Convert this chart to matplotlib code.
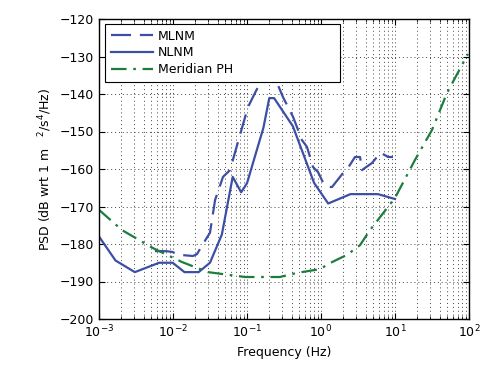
import numpy as np
import matplotlib
matplotlib.use("Agg")
import matplotlib.pyplot as plt
from matplotlib.ticker import LogLocator, NullFormatter, MultipleLocator

# NLNM (solid)
nlnm_f = [0.001, 0.00167, 0.00305, 0.0065, 0.0099, 0.01429, 0.0222, 0.0316, 0.0457,
          0.0641, 0.0833, 0.1, 0.1667, 0.2, 0.2326, 0.417, 0.806, 1.25, 2.5, 5.88, 10.0]
nlnm_db = [-178.0, -184.4, -187.5, -185.0, -185.0, -187.5, -187.5, -185.0, -177.5,
           -162.1, -166.2, -163.8, -149.0, -141.1, -141.1, -148.6, -163.7, -169.2,
           -166.7, -166.7, -168.0]

# MLNM (dashed)
mlnm_f = [0.0057, 0.0080, 0.0097, 0.0124, 0.0186, 0.0211, 0.0254, 0.0316, 0.0370,
          0.0474, 0.0589, 0.0627, 0.103, 0.141, 0.19, 0.254, 0.306, 0.419, 0.553,
          0.646, 0.781, 0.910, 1.06, 1.24, 1.41, 1.98, 2.32, 2.88, 3.37, 3.58, 3.94,
          4.89, 5.71, 6.27, 7.33, 8.04, 9.40]
mlnm_db = [-181.9, -181.9, -182.1, -182.9, -183.2, -182.7, -180.0, -177.0, -168.3,
           -162.1, -160.3, -158.4, -143.5, -138.1, -134.0, -137.0, -140.8, -146.1,
           -152.3, -154.1, -159.5, -160.8, -163.5, -164.8, -164.8, -161.1, -159.7,
           -156.8, -156.8, -160.3, -159.7, -158.4, -156.8, -155.7, -156.3, -156.8,
           -156.8]

# Meridian PH (dash-dot)
ph_f = [0.001, 0.00205, 0.00537, 0.0132, 0.0297, 0.094, 0.279, 0.474, 0.968, 1.32,
        2.24, 3.37, 4.59, 10.0, 18.6, 31.6, 50.5, 96.8]
ph_db = [-170.9, -176.3, -181.1, -184.8, -187.5, -188.8, -188.8, -187.7, -186.7,
         -185.1, -182.9, -180.3, -176.3, -167.7, -157.6, -149.6, -139.7, -129.3]

xlim = (1e-3, 1e2)
ylim = (-200, -120)

blue = '#3d4fa5'
green = '#1c7d3c'

plt.rcParams['font.family'] = ['DejaVu Sans']
fig = plt.figure(figsize=(4.94, 3.75), dpi=100)
ax = fig.add_axes([99/494, 1-319/375, 370/494, 300/375])

ax.semilogx(mlnm_f, mlnm_db, color=blue, lw=1.6, dashes=(9, 4), label='MLNM')
ax.semilogx(nlnm_f, nlnm_db, color=blue, lw=1.6, label='NLNM')
ax.semilogx(ph_f, ph_db, color=green, lw=1.6, dashes=(7, 3, 1.2, 3), label='Meridian PH')

ax.set_xlim(*xlim)
ax.set_ylim(*ylim)
ax.yaxis.set_major_locator(MultipleLocator(10))
ax.xaxis.set_major_locator(LogLocator(base=10, numticks=10))
ax.xaxis.set_minor_locator(LogLocator(base=10, subs=np.arange(2, 10), numticks=20))
ax.xaxis.set_minor_formatter(NullFormatter())

ax.grid(True, which='major', axis='both', color='#444444', ls=(0, (1, 3)), lw=0.7)
ax.grid(True, which='minor', axis='x', color='#444444', ls=(0, (1, 3)), lw=0.7)
ax.set_axisbelow(True)

ax.tick_params(which='both', direction='in', top=True, right=True, labelsize=9)
ax.tick_params(which='major', length=4)
ax.tick_params(which='minor', length=2)
for s in ax.spines.values():
    s.set_linewidth(1.0)

ax.set_xlabel('Frequency (Hz)', fontsize=9, labelpad=4)
ax.set_ylabel('PSD (dB wrt 1 m   $^2$/s$^4$/Hz)', fontsize=9, labelpad=4)

x0 = 6/370
y0 = (319-82)/300
w = (340-105)/370
h = (82-24)/300
leg = ax.legend(loc='upper left', bbox_to_anchor=(x0, y0, w, h), mode='expand',
                fontsize=9, frameon=True, fancybox=False,
                framealpha=1, edgecolor='black', handlelength=3.4,
                borderaxespad=0.0, labelspacing=0.3, handletextpad=0.4,
                borderpad=0.45)
leg.get_frame().set_linewidth(0.8)
leg.set_zorder(5)

fig.savefig('out.png', dpi=100)
